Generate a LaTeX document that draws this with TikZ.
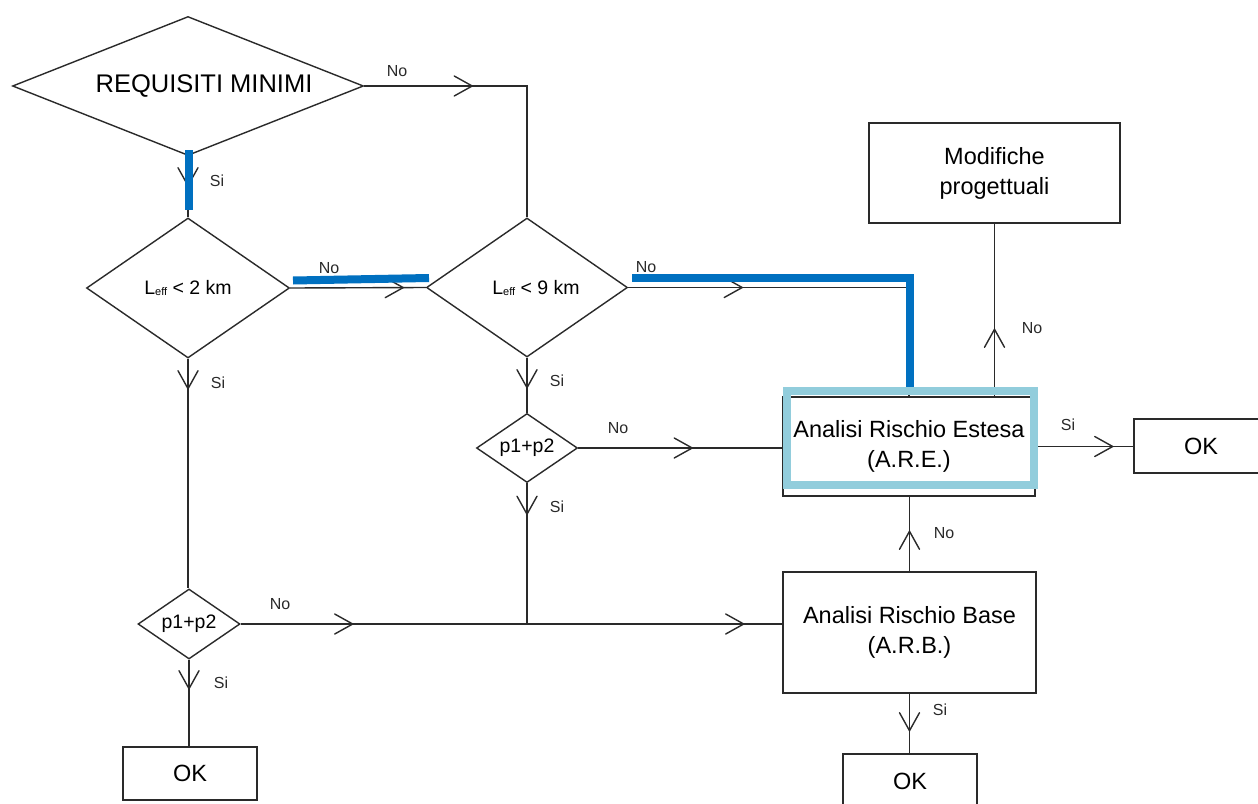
\documentclass[tikz,border=0pt]{standalone}
\usepackage{fontspec}
\setmainfont{Liberation Sans}
\usetikzlibrary{shapes.geometric,decorations.markings}
\definecolor{hlblue}{HTML}{0070C0}
\definecolor{hllight}{HTML}{92CDDC}
\definecolor{ink}{HTML}{2A2A2A}
\tikzset{
  flow/.style={draw=ink,line width=1.4pt},
  dia/.style={diamond,flow,inner sep=0pt,font=\fontsize{19.5}{22}\selectfont},
  box/.style={rectangle,flow,inner sep=0pt,align=center,font=\fontsize{23.5}{30}\selectfont},
  lbl/.style={inner sep=0pt,text=ink,font=\fontsize{16}{18}\selectfont},
  vtip/.style={postaction={decorate,decoration={markings,
      mark=at position #1 with {\draw[ink,line width=1.4pt,line cap=round,line join=miter] (-18,10) -- (0,0) -- (-18,-10);}}}},
  hl/.style={draw=hlblue,line width=8pt},
}
\begin{document}
\begin{tikzpicture}[x=1pt,y=-1pt]
\useasboundingbox (0,0) rectangle (1258,803);
\fill[white] (0,0) rectangle (1258,803);
\clip (0,0) rectangle (1258,803);

% decision nodes
\node[dia,minimum width=351pt,minimum height=139pt,aspect=2.5,font=\fontsize{25.5}{30}\selectfont] (req) at (188,86) {\hspace*{32pt}REQUISITI MINIMI};
\node[dia,minimum width=203pt,minimum height=140pt,aspect=1.45] (d2) at (188,288) {L{\fontsize{11}{11}\selectfont\raisebox{-1pt}{eff}} < 2 km};
\node[dia,minimum width=201pt,minimum height=139pt,aspect=1.45] (d9) at (527,287.5) {\hspace*{18pt}L{\fontsize{11}{11}\selectfont\raisebox{-1pt}{eff}} < 9 km};
\node[dia,minimum width=101pt,minimum height=69pt,aspect=1.46] (pA) at (527,448) {p1+p2};
\node[dia,minimum width=102pt,minimum height=70pt,aspect=1.46] (pB) at (189,624) {p1+p2};

% process nodes
\node[box,minimum width=252pt,minimum height=99pt] (are) at (909,446.5) {Analisi Rischio Estesa\\(A.R.E.)};
\node[box,minimum width=253pt,minimum height=121pt] (arb) at (909.5,632.5) {Analisi Rischio Base\\(A.R.B.)};
\node[box,minimum width=251pt,minimum height=100pt] (mod) at (994.5,173) {Modifiche\\progettuali};
\node[box,minimum width=134pt,minimum height=53pt] (ok1) at (190,773.5) {OK};
\node[box,minimum width=134pt,minimum height=54pt] (ok2) at (1201,446) {OK};
\node[box,minimum width=134pt,minimum height=54pt] (ok3) at (910,781) {OK};

\coordinate (j) at (pA.south |- pB.east);

% connectors
\draw[flow,vtip=108pt] (req.east) -| (d9.north);
\draw[flow,vtip=29.5pt] (req.south) -- (d2.north);
\draw[flow,vtip=113pt] (d2.east) -- (d9.west);
\draw[flow,vtip=114pt] (d9.east) -| (are.north);
\draw[flow,vtip=30pt] (d2.south) -- (d2.south |- pB.north);
\draw[flow,vtip=112pt,vtip=503pt] (pB.east) -- (pB.east -| arb.west);
\draw[flow,vtip=29pt] (pB.south) -- (pB.south |- ok1.north);
\draw[flow,vtip=30pt] (d9.south) -- (pA.north);
\draw[flow,vtip=114pt] (pA.east) -- (pA.east -| are.west);
\draw[flow,vtip=31pt] (pA.south) -- (j);
\draw[flow,vtip=40pt] (arb.north) -- (arb.north |- are.south);
\draw[flow,vtip=37pt] (arb.south) -- (arb.south |- ok3.north);
\draw[flow,vtip=77pt] (are.east) -- (are.east -| ok2.west);
\draw[flow,vtip=67pt] (mod.south |- are.north) -- (mod.south);

% labels
\node[lbl] (l1) at (397,71) {No};
\node[lbl] (l2) at (217,181) {Si};
\node[lbl] (l3) at (329,268) {No};
\node[lbl] (l4) at (646,267) {No};
\node[lbl] (l5) at (218,383) {Si};
\node[lbl] (l6) at (280,604) {No};
\node[lbl] (l7) at (221,683) {Si};
\node[lbl] (l8) at (557,381) {Si};
\node[lbl] (l9) at (618,428) {No};
\node[lbl] (l10) at (557,507) {Si};
\node[lbl] (l11) at (944,533) {No};
\node[lbl] (l12) at (940,710) {Si};
\node[lbl] (l13) at (1068,425) {Si};
\node[lbl] (l14) at (1032,328) {No};

% highlights
\draw[hl] (188.5,150) -- (188.5,210);
\draw[hl] (293,280.5) -- (429,278);
\draw[hl,line join=miter] (632,278) -- (909.5,278) -- (909.5,388);
\draw[draw=hllight,line width=8pt] (787,390.5) rectangle (1034,485);
\end{tikzpicture}
\end{document}
